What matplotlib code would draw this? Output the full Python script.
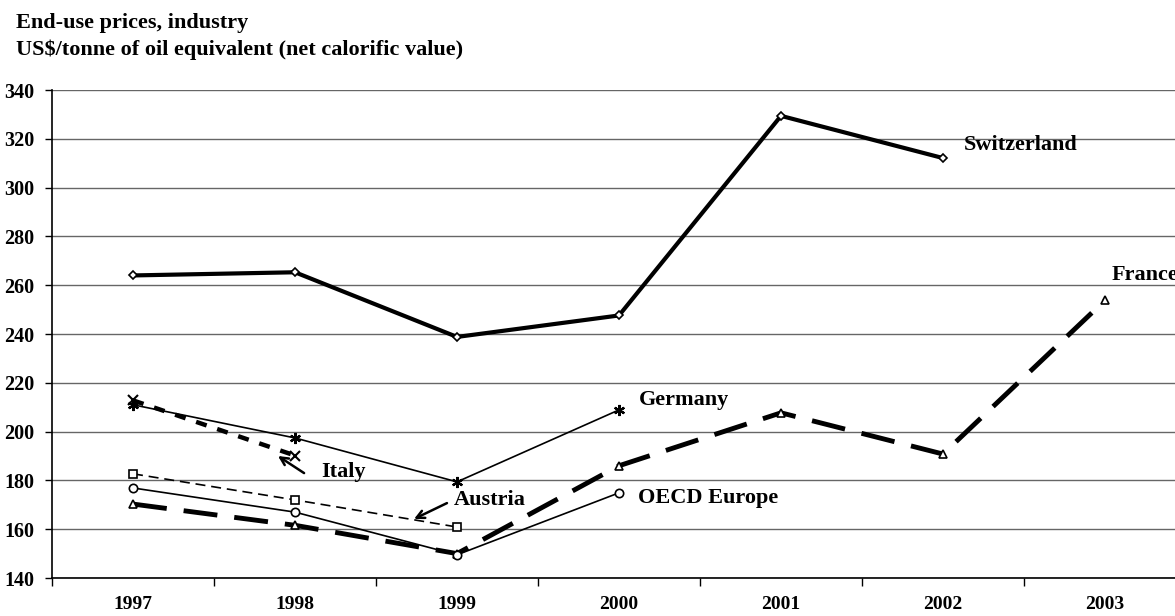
import matplotlib
matplotlib.use("Agg")
import matplotlib.pyplot as plt
import numpy as np

years = ["1997", "1998", "1999", "2000", "2001", "2002", "2003"]
switzerland = [264, 265.3, 238.8, 247.6, 329.4, 312.1]
france = [170.3, 161.6, 150.0, 186.0, 207.7, 190.8, 253.8]
germany = [211.0, 197.4, 179.4, 208.9]
italy = [212.8, 190.2]
austria = [182.7, 172.0, 160.9]
oecd_europe = [176.9, 167.0, 149.5, 174.9]

plt.rcParams['font.family'] = ['Liberation Serif', 'DejaVu Serif']
plt.rcParams['font.weight'] = 'bold'

fig = plt.figure(figsize=(11.75, 6.16), dpi=100)
ax = fig.add_axes([52/1175, 1-578/616, 1134/1175, 488/616])

x = np.arange(len(years))

mk = dict(markerfacecolor='white', markeredgecolor='black', markeredgewidth=1.2)

ax.plot(x[:len(switzerland)], switzerland, color='black', lw=3, marker='D', ms=4.5, **mk, zorder=5)
ax.plot(x[:len(france)], france, color='black', lw=3.5, dashes=(7, 3.5), marker='^', ms=5.5, **mk, zorder=5)
ax.plot(x[:len(germany)], germany, color='black', lw=1.2, zorder=5)
ax.plot(x[:len(germany)], germany, linestyle='none', marker=(6, 2, 0), ms=8, markeredgecolor='black', markeredgewidth=1.6, zorder=6)
ax.plot(x[:len(italy)], italy, color='black', lw=3.2, dashes=(2.5, 2.5), zorder=5)
ax.plot(x[:len(italy)], italy, linestyle='none', marker='x', ms=7, markeredgecolor='black', markeredgewidth=1.5, zorder=6)
ax.plot(x[:len(austria)], austria, color='black', lw=1.2, dashes=(6, 3.5), marker='s', ms=6, **mk, zorder=5)
ax.plot(x[:len(oecd_europe)], oecd_europe, color='black', lw=1.2, marker='o', ms=6, **mk, zorder=5)

ax.set_xlim(-0.5, len(years) - 0.5)
ax.set_ylim(140, 340)
ax.set_yticks(np.arange(140, 341, 20))
ax.yaxis.grid(True, color='#666666', lw=1.0)
ax.set_axisbelow(True)

ax.set_xticks(x)
ax.set_xticklabels(years, fontsize=14, fontweight='bold')
ax.set_xticks(np.arange(-0.5, len(years), 1.0), minor=True)
ax.tick_params(axis='x', which='major', length=0, pad=13)
ax.tick_params(axis='x', which='minor', length=6, width=1, direction='out')
ax.tick_params(axis='y', length=5, width=1, direction='out', labelsize=14.5, pad=8)
for lab in ax.get_yticklabels():
    lab.set_fontweight('bold')

for s in ['top', 'right']:
    ax.spines[s].set_visible(False)
ax.spines['left'].set_linewidth(1.2)
ax.spines['bottom'].set_linewidth(1.2)

lab = dict(fontsize=16, fontweight='bold', va='center', ha='left')
ax.text(5.13, 317.5, "Switzerland", **lab)
ax.text(6.04, 264, "France", **lab)
ax.text(3.12, 213, "Germany", **lab)
ax.text(3.12, 172.8, "OECD Europe", **lab)
ax.text(1.16, 183.4, "Italy", **lab)
ax.text(1.98, 172.0, "Austria", **lab)

ax.annotate("", xy=(0.895, 190.0), xytext=(1.056, 183.0),
            arrowprops=dict(arrowstyle='->', color='black', lw=1.8, mutation_scale=14, shrinkA=0, shrinkB=0))
ax.annotate("", xy=(1.735, 164.2), xytext=(1.938, 170.7),
            arrowprops=dict(arrowstyle='->', color='black', lw=1.8, mutation_scale=14, shrinkA=0, shrinkB=0))

fig.text(16/1175, 1-23/616, "End-use prices, industry", fontsize=16, fontweight='bold', va='center', ha='left')
fig.text(16/1175, 1-50/616, "US$/tonne of oil equivalent (net calorific value)", fontsize=16, fontweight='bold', va='center', ha='left')

fig.savefig("out.png", dpi=100)
